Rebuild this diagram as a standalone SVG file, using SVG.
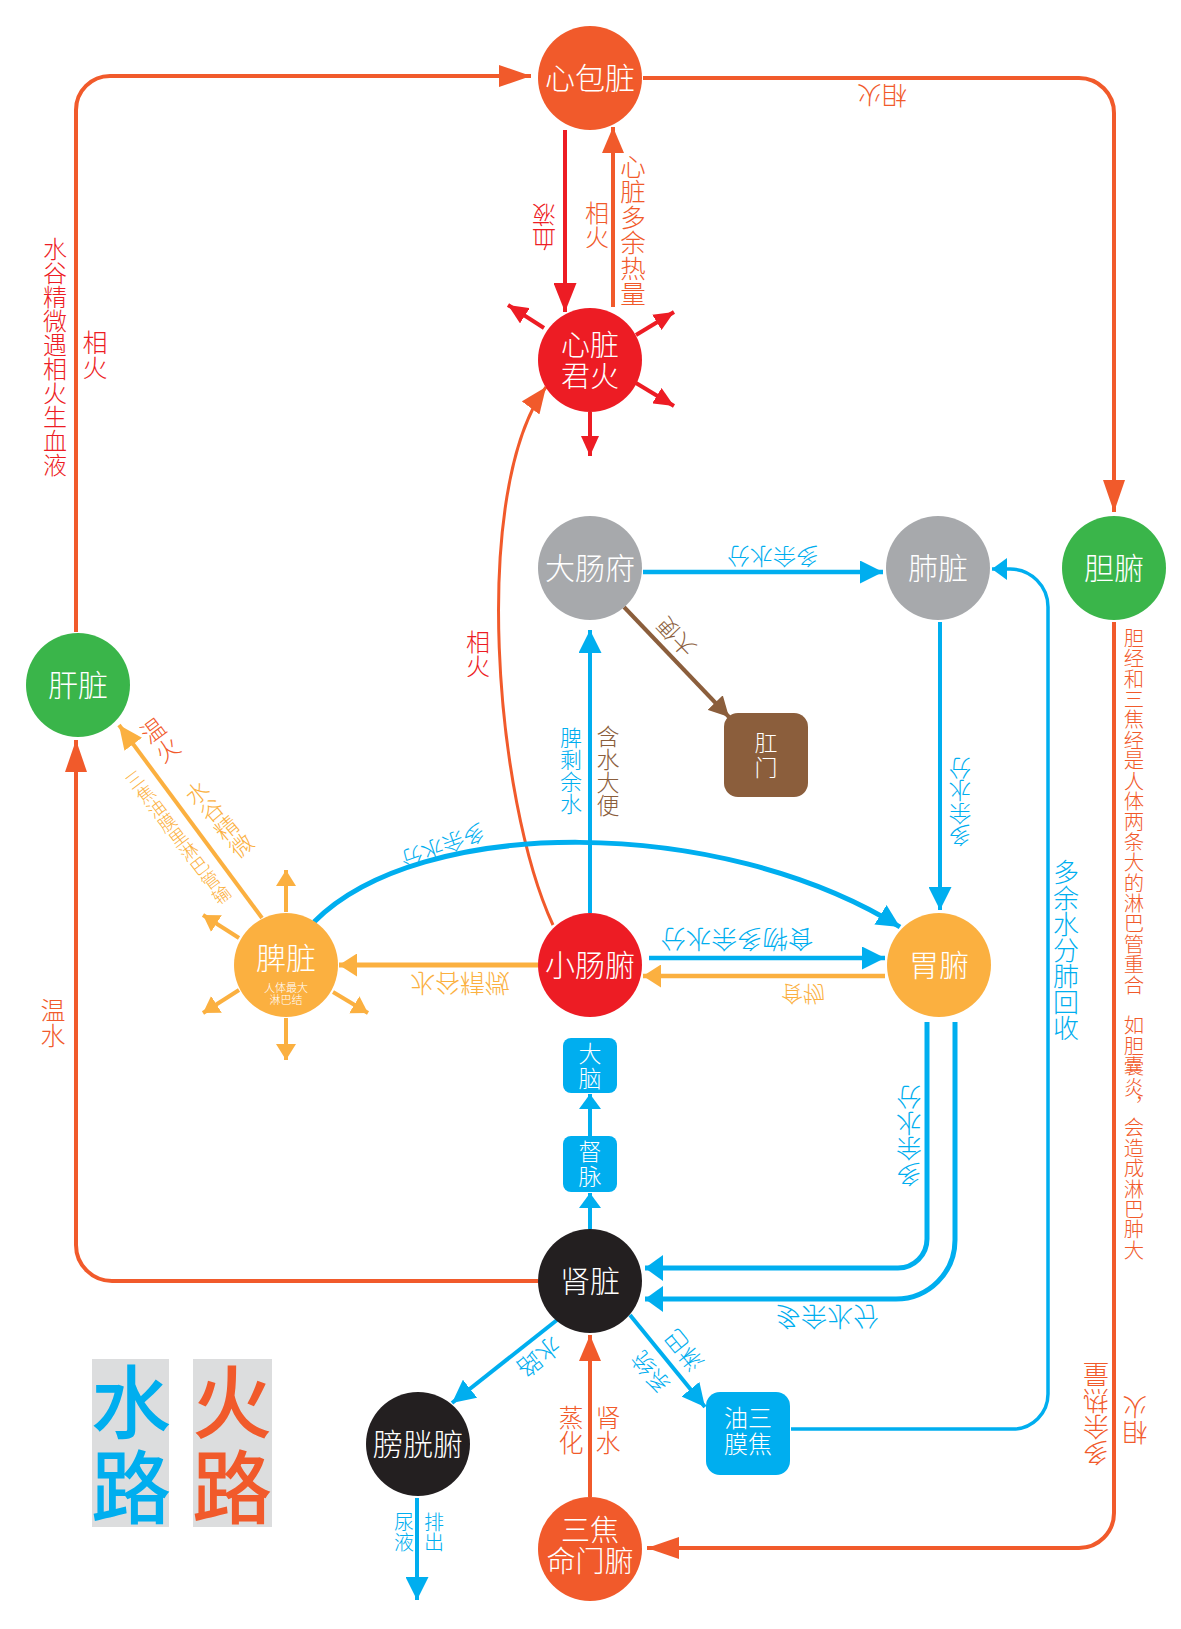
<svg xmlns="http://www.w3.org/2000/svg" width="1181" height="1629" viewBox="0 0 1181 1629">
<style>
text{font-family:"Noto Sans CJK SC","Noto Sans CJK JP",sans-serif;font-weight:300}
.n text{fill:#fff;font-size:30px;text-anchor:middle}
.bx text{fill:#fff;font-size:23px;text-anchor:middle}
.v{writing-mode:vertical-rl;text-anchor:middle}
.h{text-anchor:middle}
.cO{fill:#F15A2B}.cR{fill:#ED1C24}.cB{fill:#00AEEF}.cY{fill:#FBB040}.cBr{fill:#8B5E3C}
.e path{fill:none;stroke-width:4}
.sO{stroke:#F15A2B}.sR{stroke:#ED1C24}.sB{stroke:#00AEEF}.sY{stroke:#FBB040}.sBr{stroke:#8B5E3C}
.lg text{font-size:80px;font-weight:500;text-anchor:middle}
</style>
<defs>
<marker id="aO" markerUnits="userSpaceOnUse" markerWidth="32" markerHeight="22" refX="32" refY="11" orient="auto"><path d="M0,0L32,11L0,22z" fill="#F15A2B"/></marker>
<marker id="aO2" markerUnits="userSpaceOnUse" markerWidth="26" markerHeight="22" refX="26" refY="11" orient="auto"><path d="M0,0L26,11L0,22z" fill="#F15A2B"/></marker>
<marker id="aR" markerUnits="userSpaceOnUse" markerWidth="29" markerHeight="23" refX="29" refY="11.5" orient="auto"><path d="M0,0L29,11.5L0,23z" fill="#ED1C24"/></marker>
<marker id="aRs" markerUnits="userSpaceOnUse" markerWidth="20" markerHeight="18" refX="20" refY="9" orient="auto"><path d="M0,0L20,9L0,18z" fill="#ED1C24"/></marker>
<marker id="aB" markerUnits="userSpaceOnUse" markerWidth="23" markerHeight="23" refX="23" refY="11.5" orient="auto"><path d="M0,0L23,11.5L0,23z" fill="#00AEEF"/></marker>
<marker id="aBf" markerUnits="userSpaceOnUse" markerWidth="18" markerHeight="26" refX="18" refY="13" orient="auto"><path d="M0,0L18,13L0,26z" fill="#00AEEF"/></marker>
<marker id="aBs" markerUnits="userSpaceOnUse" markerWidth="15" markerHeight="22" refX="15" refY="11" orient="auto"><path d="M0,0L15,11L0,22z" fill="#00AEEF"/></marker>
<marker id="aY" markerUnits="userSpaceOnUse" markerWidth="18" markerHeight="23" refX="18" refY="11.5" orient="auto"><path d="M0,0L18,11.5L0,23z" fill="#FBB040"/></marker>
<marker id="aYs" markerUnits="userSpaceOnUse" markerWidth="16" markerHeight="20" refX="16" refY="10" orient="auto"><path d="M0,0L16,10L0,20z" fill="#FBB040"/></marker>
<marker id="aY2" markerUnits="userSpaceOnUse" markerWidth="24" markerHeight="22" refX="24" refY="11" orient="auto"><path d="M0,0L24,11L0,22z" fill="#FBB040"/></marker>
<marker id="aBr" markerUnits="userSpaceOnUse" markerWidth="20" markerHeight="21" refX="20" refY="10.5" orient="auto"><path d="M0,0L20,10.5L0,21z" fill="#8B5E3C"/></marker>
</defs>
<rect width="1181" height="1629" fill="#fff"/>

<g id="connectors" class="e">
<path class="sO" d="M76 632L76 110A34 34 0 0 1 110 76L531 76" marker-end="url(#aO)"/>
<path class="sO" d="M643 78L1079 78A35 35 0 0 1 1114 113L1114 512" marker-end="url(#aO)"/>
<path class="sO" d="M1114 622L1114 1513A35 35 0 0 1 1079 1548L647 1548" marker-end="url(#aO)"/>
<path class="sO" d="M538 1281L112 1281A36 36 0 0 1 76 1245L76 740" marker-end="url(#aO)"/>
<path class="sR" d="M565 130L565 312" marker-end="url(#aR)"/>
<path class="sO" d="M613 307L613 127" marker-end="url(#aO2)"/>
<path class="sR" d="M544 328L508 305" marker-end="url(#aRs)"/>
<path class="sR" d="M636 335L674 312" marker-end="url(#aRs)"/>
<path class="sR" d="M636 383L674 406" marker-end="url(#aRs)"/>
<path class="sR" d="M590 412L590 456" marker-end="url(#aRs)"/>
<path class="sO" style="stroke-width:3" d="M553 925C495 800 470 490 546 387" marker-end="url(#aO2)"/>
<path class="sB" style="stroke-width:4.5" d="M643 572L883 572" marker-end="url(#aB)"/>
<path class="sBr" d="M624 607L729 717" marker-end="url(#aBr)"/>
<path class="sB" d="M590 913L590 630" marker-end="url(#aB)"/>
<path class="sB" d="M940 622L940 910" marker-end="url(#aB)"/>
<path class="sB" style="stroke-width:3.5" d="M791 1429L1013 1429A35 35 0 0 0 1048 1394L1048 607A38 38 0 0 0 1010 569L992 569" marker-end="url(#aBs)"/>
<path class="sB" style="stroke-width:5" d="M314 922C420 815 720 815 900 927" marker-end="url(#aB)"/>
<path class="sB" style="stroke-width:4.5" d="M649 958L885 958" marker-end="url(#aB)"/>
<path class="sY" style="stroke-width:4.5" d="M885 976L643 976" marker-end="url(#aY)"/>
<path class="sY" style="stroke-width:5" d="M538 965L339 965" marker-end="url(#aY)"/>
<path class="sY" d="M286 912L286 870" marker-end="url(#aYs)"/>
<path class="sY" d="M239 938L203 915" marker-end="url(#aYs)"/>
<path class="sY" d="M239 990L203 1013" marker-end="url(#aYs)"/>
<path class="sY" d="M333 992L368 1013" marker-end="url(#aYs)"/>
<path class="sY" d="M286 1018L286 1060" marker-end="url(#aYs)"/>
<path class="sY" d="M262 918L119 725" marker-end="url(#aY2)"/>
<path class="sB" d="M590 1229L590 1193" marker-end="url(#aBs)"/>
<path class="sB" d="M590 1136L590 1094" marker-end="url(#aBs)"/>
<path class="sB" style="stroke-width:5" d="M927 1022L927 1239A29 29 0 0 1 898 1268L645 1268" marker-end="url(#aBf)"/>
<path class="sB" style="stroke-width:5" d="M955 1022L955 1240A59 59 0 0 1 896 1299L645 1299" marker-end="url(#aBf)"/>
<path class="sB" d="M557 1320L452 1403" marker-end="url(#aB)"/>
<path class="sB" d="M630 1315L705 1407" marker-end="url(#aB)"/>
<path class="sO" d="M590 1497L590 1335" marker-end="url(#aO2)"/>
<path class="sB" d="M417 1498L417 1600" marker-end="url(#aB)"/>
</g>

<g id="labels">
<text class="v cR" x="55" y="357" font-size="24">水谷精微遇相火生血液</text>
<text class="v cR" x="95" y="355" font-size="25">相火</text>
<text class="h cO" x="882" y="104.5" font-size="25" transform="rotate(180 882 95)">相火</text>
<text class="v cR" x="544" y="227" font-size="24" transform="rotate(180 544 227)">血液</text>
<text class="v cO" x="597" y="225" font-size="24">相火</text>
<text class="v cO" x="633" y="230" font-size="25.5">心脏多余热量</text>
<text class="v cR" x="478" y="654" font-size="24">相火</text>
<text class="h cB" x="773" y="565.7" font-size="23" transform="rotate(180 773 557)">多余水分</text>
<text class="h cBr" x="676" y="645.4" font-size="22" transform="rotate(226 676 637)">大便</text>
<text class="v cB" x="571" y="771" font-size="22">脾剩余水</text>
<text class="v cBr" x="608" y="771" font-size="23">含水大便</text>
<text class="v cB" x="960" y="802" font-size="22.5" transform="rotate(180 960 802)">多余水分</text>
<text class="v cB" x="1066" y="950" font-size="26">多余水分肺回收</text>
<text class="v cO" x="1134" y="944" font-size="20.4">胆经和三焦经是人体两条大的淋巴管重合　如胆囊炎，会造成淋巴肿大</text>
<text class="v cO" x="1135" y="1420" font-size="25" transform="rotate(180 1135 1420)">相火</text>
<text class="v cO" x="1096" y="1414" font-size="26" transform="rotate(180 1096 1414)">多余热量</text>
<text class="v cO" x="160" y="740" font-size="24" transform="rotate(-36.5 160 740)">温火</text>
<text class="v cY" x="219" y="819" font-size="23" transform="rotate(-40 219 819)">水谷精微</text>
<text class="v cY" x="178" y="837" font-size="18" transform="rotate(-37 178 837)">三焦油膜里淋巴管输</text>
<text class="h cB" x="443" y="854.4" font-size="22" transform="rotate(160 443 846)">多余水分</text>
<text class="h cB" x="737" y="949.7" font-size="25.5" transform="rotate(180 737 940)">食物多余水分</text>
<text class="h cY" x="803" y="1002.4" font-size="22" transform="matrix(1 0 0 -1 0 1988)">食物</text>
<text class="h cY" x="460" y="992.5" font-size="25" transform="matrix(1 0 0 -1 0 1966)">水谷精微</text>
<text class="v cO" x="53" y="1023" font-size="25">温水</text>
<text class="v cB" x="909" y="1136" font-size="25.5" transform="rotate(180 909 1136)">多余水分</text>
<text class="h cB" x="827" y="1326.9" font-size="26" transform="matrix(1 0 0 -1 0 2634)">多余水分</text>
<text class="h cB" x="539" y="1366" font-size="24" transform="rotate(141.7 539 1357)">水路</text>
<text class="h cB" x="684" y="1358.5" font-size="23" transform="rotate(230.8 684 1350)">淋巴</text>
<text class="h cB" x="651" y="1380.5" font-size="23" transform="rotate(230.8 651 1372)">系统</text>
<text class="v cO" x="571" y="1430" font-size="25">蒸化</text>
<text class="v cO" x="608" y="1430" font-size="25">肾水</text>
<text class="v cB" x="404" y="1532" font-size="20">尿液</text>
<text class="v cB" x="434" y="1532" font-size="20">排出</text>
</g>

<g id="n-xinbao" class="n"><circle cx="590" cy="78" r="52" fill="#F15A2B"/><text x="590" y="89">心包脏</text></g>
<g id="n-xinzang" class="n"><circle cx="590" cy="360" r="52" fill="#ED1C24"/><text x="590" y="356" style="font-size:29px">心脏</text><text x="590" y="387" style="font-size:29px">君火</text></g>
<g id="n-dachang" class="n"><circle cx="590" cy="568" r="52" fill="#A7A9AC"/><text x="590" y="579">大肠府</text></g>
<g id="n-fei" class="n"><circle cx="938" cy="568" r="52" fill="#A7A9AC"/><text x="938" y="579">肺脏</text></g>
<g id="n-dan" class="n"><circle cx="1114" cy="568" r="52" fill="#3AB54A"/><text x="1114" y="579">胆腑</text></g>
<g id="n-gan" class="n"><circle cx="78" cy="685" r="52" fill="#3AB54A"/><text x="78" y="696">肝脏</text></g>
<g id="n-pi" class="n"><circle cx="286" cy="965" r="52" fill="#FBB040"/><text x="286" y="969">脾脏</text><text x="286" y="992" style="font-size:11px">人体最大</text><text x="286" y="1003.5" style="font-size:11px">淋巴结</text></g>
<g id="n-xiaochang" class="n"><circle cx="590" cy="965" r="52" fill="#ED1C24"/><text x="590" y="976">小肠腑</text></g>
<g id="n-wei" class="n"><circle cx="939" cy="965" r="52" fill="#FBB040"/><text x="939" y="976">胃腑</text></g>
<g id="n-shen" class="n"><circle cx="590" cy="1281" r="52" fill="#231F20"/><text x="590" y="1292">肾脏</text></g>
<g id="n-pangguang" class="n"><circle cx="418" cy="1444" r="52" fill="#231F20"/><text x="418" y="1455">膀胱腑</text></g>
<g id="n-sanjiao" class="n"><circle cx="590" cy="1549" r="52" fill="#F15A2B"/><text x="590" y="1541" style="font-size:29px">三焦</text><text x="590" y="1572" style="font-size:29px">命门腑</text></g>
<g id="n-gangmen" class="bx"><rect x="724" y="713" width="84" height="84" rx="14" fill="#8B5E3C"/><text x="766" y="750.5">肛</text><text x="766" y="775.5">门</text></g>
<g id="n-danao" class="bx"><rect x="563" y="1038" width="54" height="55" rx="8" fill="#00AEEF"/><text x="590" y="1062">大</text><text x="590" y="1087">脑</text></g>
<g id="n-dumai" class="bx"><rect x="563" y="1136" width="54" height="56" rx="8" fill="#00AEEF"/><text x="590" y="1160">督</text><text x="590" y="1185">脉</text></g>
<g id="n-youmo" class="bx"><rect x="706" y="1392" width="84" height="83" rx="14" fill="#00AEEF"/><text x="748" y="1426.5" style="font-size:24px">油三</text><text x="748" y="1452.5" style="font-size:24px">膜焦</text></g>

<g id="legend" class="lg">
<rect x="92" y="1359" width="77" height="168" fill="#DCDDDE"/>
<rect x="193" y="1359" width="79" height="168" fill="#DCDDDE"/>
<text x="131" y="1432" fill="#00AEEF">水</text><text x="131" y="1517" fill="#00AEEF">路</text>
<text x="232" y="1432" fill="#F15A2B">火</text><text x="232" y="1517" fill="#F15A2B">路</text>
</g>
</svg>
